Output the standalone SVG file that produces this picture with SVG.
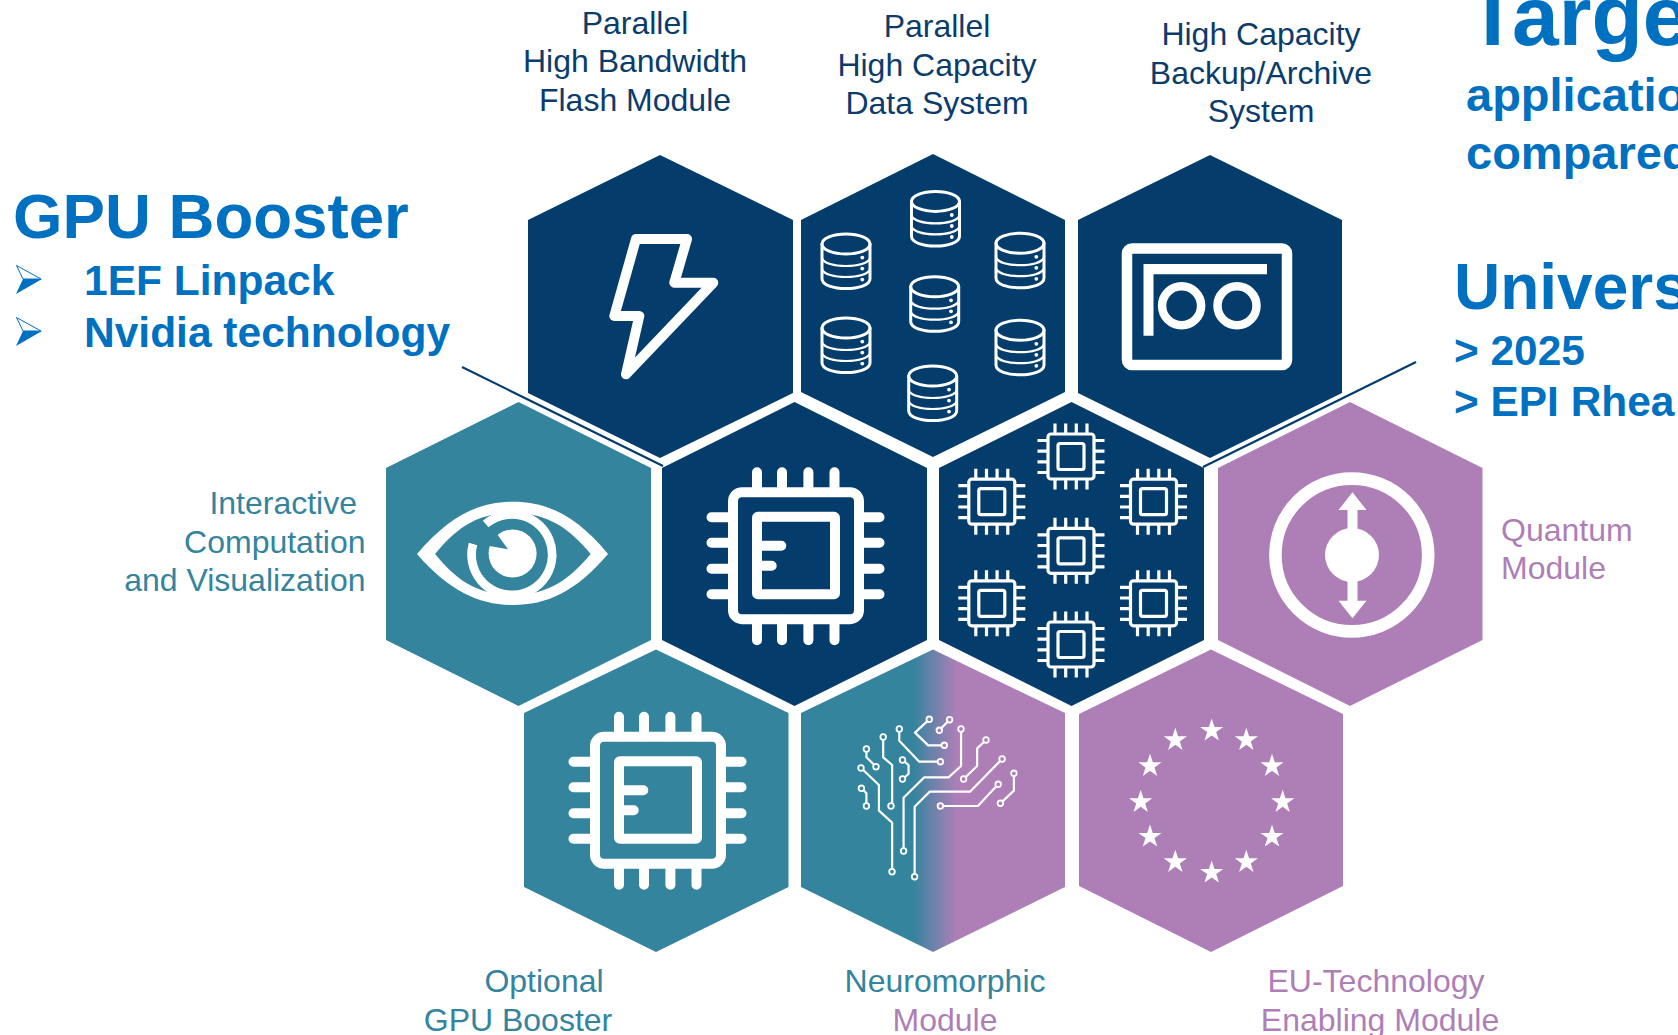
<svg xmlns="http://www.w3.org/2000/svg" xmlns:xlink="http://www.w3.org/1999/xlink" width="1678" height="1035" viewBox="0 0 1678 1035">
<style>
text{font-family:"Liberation Sans",Arial,sans-serif}
.lbl{font-size:32px;text-anchor:middle}
.navy{fill:#0b3c6b}.teal{fill:#34849e}.purple{fill:#ae7fb7}
.h1{fill:#0070c0;font-weight:bold}
.hn{fill:#043d6b}.ht{fill:#34849e}.hp{fill:#ae7fb7}
.w{fill:none;stroke:#fff;stroke-linecap:round;stroke-linejoin:round}
.conn{stroke:#043d6b;stroke-width:2.2;fill:none}
</style>
<defs>
<linearGradient id="mix" gradientUnits="userSpaceOnUse" x1="913" y1="0" x2="957" y2="0"><stop offset="0" stop-color="#34849e"/><stop offset="1" stop-color="#ae7fb7"/></linearGradient>
<g id="db" class="w" stroke-width="3">
<ellipse cx="0" cy="-17.3" rx="24" ry="10"/>
<path d="M-24,-17.3V17.5C-24,24 -12,27.3 0,27.3S24,24 24,17.5V-17.3"/>
<path stroke-width="2.2" d="M-24,-3C-22,2 -12,4.7 0,4.7S22,2 24,-3M-24,8C-22,13 -12,15.7 0,15.7S22,13 24,8"/>
<circle cx="16.3" cy="-3.7" r="1.9" fill="#fff" stroke="none"/><circle cx="16.3" cy="7.3" r="1.9" fill="#fff" stroke="none"/><circle cx="16.3" cy="18.3" r="1.9" fill="#fff" stroke="none"/>
</g>
<g id="chip" class="w" stroke-width="10">
<rect x="-63" y="-63.5" width="126" height="127" rx="9"/>
<rect x="-39" y="-39" width="78" height="77.5" rx="1"/>
<path d="M-39,-10H-14.700M-39,10H-24.300"/>
<path d="M-39,-83.5V-64M-14,-83.5V-64M12.4,-83.5V-64M38.5,-83.5V-64M-39,84.5V64M-14,84.5V64M12.4,84.5V64M38.5,84.5V64M-84.5,-38.5H-64M-84.5,-13H-64M-84.5,13H-64M-84.5,38.5H-64M83.5,-38.5H64M83.5,-13H64M83.5,13H64M83.5,38.5H64"/>
</g>
<g id="mini" class="w" stroke-width="3.2">
<rect x="-23" y="-22.5" width="46" height="45" rx="3"/>
<rect x="-13" y="-13" width="26" height="26" rx="2"/>
<path stroke-linecap="butt" d="M-16,-33V-23M-5.3,-33V-23M5.3,-33V-23M16,-33V-23M-16,33V23M-5.3,33V23M5.3,33V23M16,33V23M-33.5,-16H-23M-33.5,-5.3H-23M-33.5,5.3H-23M-33.5,16H-23M33.5,-16H23M33.5,-5.3H23M33.5,5.3H23M33.5,16H23"/>
</g>
<polygon id="star" fill="#fff" points="0,-12.2 2.8,-3.8 11.6,-3.8 4.5,1.4 7.2,9.9 0,4.7 -7.2,9.9 -4.5,1.4 -11.6,-3.8 -2.8,-3.8"/>
<g id="bullet"><polygon points="16,29 42,14 23,14" fill="#0070c0"/><polygon points="16.5,0.5 41,14 23,14" fill="#fff" stroke="#0070c0" stroke-width="1"/></g>
</defs>
<rect width="1678" height="1035" fill="#fff"/>

<g id="connectors">
<path class="conn" d="M462,367L663,466"/>
<path class="conn" d="M1416,362L1203,467"/>
</g>

<g id="node-flash">
<polygon class="hn" points="660,155 793,220 793,393 660,458 528,393 528,220"/>
<path class="w" stroke-width="10" d="M636,239H687L674.3,282.7H713.3L626,374.3L639.3,316H614.3Z"/>
<text class="lbl navy" x="635" y="34">Parallel</text><text class="lbl navy" x="635" y="72">High Bandwidth</text><text class="lbl navy" x="635" y="111">Flash Module</text>
</g>
<g id="node-data">
<polygon class="hn" points="933,154 1065,220 1065,392 933,457 801,392 801,220"/>
<use xlink:href="#db" x="846" y="261.3"/><use xlink:href="#db" x="846" y="345.3"/><use xlink:href="#db" x="935.500" y="218.7"/><use xlink:href="#db" x="934.7" y="304"/><use xlink:href="#db" x="932.7" y="393.3"/><use xlink:href="#db" x="1020" y="260.5"/><use xlink:href="#db" x="1020" y="347.5"/>
<text class="lbl navy" x="937" y="37">Parallel</text><text class="lbl navy" x="937" y="75.5">High Capacity</text><text class="lbl navy" x="937" y="114">Data System</text>
</g>
<g id="node-archive">
<polygon class="hn" points="1210,155 1342,220 1342,393 1210,458 1078,393 1078,220"/>
<rect x="1127" y="248.5" width="160" height="116.5" rx="5" fill="none" stroke="#fff" stroke-width="10.5"/>
<path fill="#fff" d="M1143.5,264H1267V274.3H1153.5V335.7H1143.5Z"/>
<circle cx="1181.6" cy="305.7" r="19.5" fill="none" stroke="#fff" stroke-width="8.5"/><circle cx="1237" cy="305.7" r="19.5" fill="none" stroke="#fff" stroke-width="8.5"/>
<text class="lbl navy" x="1261" y="45">High Capacity</text><text class="lbl navy" x="1261" y="84">Backup/Archive</text><text class="lbl navy" x="1261" y="122">System</text>
</g>
<g id="node-vis">
<polygon class="ht" points="518.5,402 651,468 651,640 518.5,706 386,640 386,468"/>
<path fill="#fff" d="M417,554C450,515 480,501.7 513,501.7C546,501.7 576,515 608,554C576,592 546,605 513,605C480,605 450,592 417,554Z"/>
<path class="ht" d="M435,554C455,530 475,513 512.6,513C550,513 570,530 590.7,554C570,578 550,595 512.6,595C475,595 455,578 435,554Z"/>
<path fill="none" stroke="#fff" stroke-width="8.7" d="M485.7,524A40.3,40.3 0 1 1 473,544"/>
<circle cx="512.6" cy="553.5" r="24" fill="#fff"/>
<polygon class="ht" points="508,549.3 488,545.7 484,535 497,534"/>
<text class="lbl teal" style="text-anchor:end" x="357" y="514">Interactive</text><text class="lbl teal" style="text-anchor:end" x="365.500" y="553">Computation</text><text class="lbl teal" style="text-anchor:end" x="365.500" y="591">and Visualization</text>
</g>
<g id="node-cpu">
<polygon class="hn" points="794.500,402 927,468 927,640 794.500,706 662,640 662,468"/>
<use xlink:href="#chip" x="796" y="555.700"/>
</g>
<g id="node-multi">
<polygon class="hn" points="1071.500,402 1204,468 1204,640 1071.500,706 939,640 939,468"/>
<use xlink:href="#mini" x="1071" y="456.500"/><use xlink:href="#mini" x="1071" y="550.800"/><use xlink:href="#mini" x="1071" y="644.500"/><use xlink:href="#mini" x="991.800" y="501.700"/><use xlink:href="#mini" x="991.800" y="603.300"/><use xlink:href="#mini" x="1153.500" y="501.700"/><use xlink:href="#mini" x="1153.500" y="603.300"/>
</g>
<g id="node-quantum">
<polygon class="hp" points="1350,402 1482.500,468 1482.500,640 1350,706 1218,640 1218,468"/>
<circle cx="1351.800" cy="555" r="76.400" fill="none" stroke="#fff" stroke-width="12.600"/>
<circle cx="1352" cy="555" r="27" fill="#fff"/>
<path fill="#fff" d="M1352.500,492.300L1366.500,510H1357.500V600.700H1366.500L1352.500,618.300L1338.500,600.700H1347.500V510H1338.500Z"/>
<text class="lbl purple" style="text-anchor:start" x="1501" y="541">Quantum</text><text class="lbl purple" style="text-anchor:start" x="1501" y="579">Module</text>
</g>
<g id="node-gpu">
<polygon class="ht" points="656,649.500 788.500,713 788.500,887 656,952 524,887 524,713"/>
<use xlink:href="#chip" x="658" y="800.300"/>
<text class="lbl teal" x="544" y="992">Optional</text><text class="lbl teal" x="518" y="1031">GPU Booster</text>
</g>
<g id="node-neuro">
<polygon fill="url(#mix)" points="933,649.500 1065,713 1065,887 933,952 801,887 801,713"/>
<g transform="translate(520 650) scale(.35714 .33333)" fill="none" stroke="#fff" stroke-linejoin="round">
<path vector-effect="non-scaling-stroke" stroke-width="2.200" d="M1146,208L1106,248L1143,286H1188M1203,209L1174,241M1062,237V272L1118,335H1177M1235,237V348L1200,382H1132L1074,443V603M1305,270L1280,295V348L1242,387M1350,327L1260,425H1147L1105,470V680M1339,403L1282,468H1177M1383,370V422L1345,460M1017,261V322L1042,345V468M970,297V322L997,350M955,354L1005,405V482L1042,518V665M1071,330L1088,345V372L1071,387M956,415L970,430V468"/>
</g>
<g fill="#34849e" stroke="#fff" stroke-width="1.800">
<circle cx="929.300" cy="719.300" r="2.800" fill="#7f88ad"/><circle cx="949.600" cy="719.700" r="2.800" fill="#ae7fb7"/><circle cx="939.300" cy="730.300" r="2.800" fill="#ae7fb7"/><circle cx="899.300" cy="729" r="2.800"/><circle cx="961" cy="729" r="2.800" fill="#ae7fb7"/><circle cx="986" cy="740" r="2.800" fill="#ae7fb7"/><circle cx="944.300" cy="745.300" r="2.800" fill="#ae7fb7"/><circle cx="883.200" cy="737" r="2.800"/><circle cx="866.400" cy="749" r="2.800"/><circle cx="876" cy="766.700" r="2.800"/><circle cx="861" cy="768" r="2.800"/><circle cx="902.500" cy="760" r="2.800"/><circle cx="902.500" cy="779" r="2.800"/><circle cx="940.400" cy="761.700" r="2.800" fill="#ae7fb7"/><circle cx="963.600" cy="779" r="2.800" fill="#ae7fb7"/><circle cx="1002.100" cy="759" r="2.800" fill="#ae7fb7"/><circle cx="998.200" cy="784.300" r="2.800" fill="#ae7fb7"/><circle cx="1013.900" cy="773.300" r="2.800" fill="#ae7fb7"/><circle cx="1000.400" cy="803.300" r="2.800" fill="#ae7fb7"/><circle cx="861.400" cy="788.300" r="2.800"/><circle cx="866.400" cy="806" r="2.800"/><circle cx="891" cy="806" r="2.800"/><circle cx="940.400" cy="806" r="2.800" fill="#ae7fb7"/><circle cx="903.600" cy="851" r="2.800"/><circle cx="892" cy="871.700" r="2.800"/><circle cx="914.600" cy="876.700" r="2.800"/>
</g>
<text class="lbl teal" x="945" y="992">Neuromorphic</text><text class="lbl purple" x="945" y="1031">Module</text>
</g>
<g id="node-eu">
<polygon class="hp" points="1211,649.500 1343,714 1343,886 1211,952 1079,886 1079,714"/>
<use xlink:href="#star" x="1211.700" y="730.700"/><use xlink:href="#star" x="1246.300" y="740"/><use xlink:href="#star" x="1272" y="766"/><use xlink:href="#star" x="1282.700" y="802"/><use xlink:href="#star" x="1272" y="836.700"/><use xlink:href="#star" x="1246.300" y="862"/><use xlink:href="#star" x="1211.700" y="872.700"/><use xlink:href="#star" x="1175.300" y="862"/><use xlink:href="#star" x="1150" y="836.700"/><use xlink:href="#star" x="1140.700" y="802"/><use xlink:href="#star" x="1150" y="766"/><use xlink:href="#star" x="1175.300" y="740"/>
<text class="lbl purple" x="1376" y="992">EU-Technology</text><text class="lbl purple" x="1380" y="1031">Enabling Module</text>
</g>

<g id="gpu-booster-note">
<text class="h1" x="13" y="238" font-size="63.600">GPU Booster</text>
<use xlink:href="#bullet" y="265"/><use xlink:href="#bullet" y="317"/>
<text class="h1" x="84" y="295" font-size="42.500">1EF Linpack</text>
<text class="h1" x="84" y="346.500" font-size="42.500">Nvidia technology</text>
</g>
<g id="target-note">
<text class="h1" x="1467" y="45" font-size="84">Targe</text>
<text class="h1" x="1466" y="111" font-size="47">applicatio</text>
<text class="h1" x="1466" y="169" font-size="47">compared</text>
</g>
<g id="universal-note">
<text class="h1" x="1454" y="309.300" font-size="64">Univers</text>
<text class="h1" x="1454" y="365" font-size="42.400">&gt; 2025</text>
<text class="h1" x="1454" y="416" font-size="42.400">&gt; EPI Rhea</text>
</g>
</svg>
